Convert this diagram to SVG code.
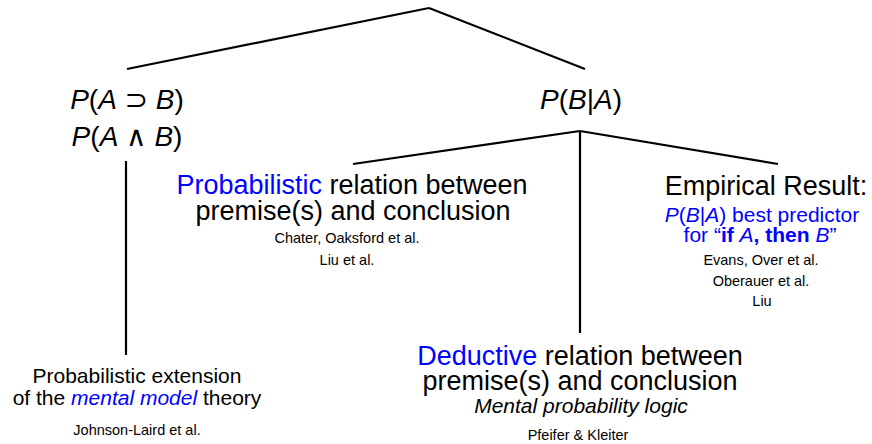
<svg xmlns="http://www.w3.org/2000/svg" width="872" height="444" viewBox="0 0 872 444">
<style>
text{font-family:"Liberation Sans","DejaVu Sans",sans-serif;fill:#000;text-anchor:middle}
.m{font-size:28px}
.h{font-size:27px}
.s{font-size:21px}
.r{font-size:14.5px}
.b{fill:#0000ff}
.i{font-style:italic}
.bold{font-weight:bold}
.nb{font-weight:normal}
line{stroke:#000;stroke-width:2.2;fill:none}
</style>
<rect width="872" height="444" fill="#fff"/>
<g id="connectors">
<line x1="429" y1="8" x2="127" y2="69"/>
<line x1="429" y1="8" x2="585" y2="69"/>
<line x1="580" y1="131" x2="353" y2="164"/>
<line x1="580" y1="131" x2="778" y2="164"/>
<line x1="580" y1="131" x2="580" y2="333"/>
<line x1="126" y1="161" x2="126" y2="355"/>
</g>
<g id="nodeLeft">
<text class="m" x="127" y="109"><tspan class="i">P</tspan>(<tspan class="i">A</tspan> ⊃ <tspan class="i">B</tspan>)</text>
<text class="m" x="127" y="146"><tspan class="i">P</tspan>(<tspan class="i">A</tspan> ∧ <tspan class="i">B</tspan>)</text>
</g>
<g id="nodeRight">
<text class="m" x="581" y="109"><tspan class="i">P</tspan>(<tspan class="i">B</tspan>|<tspan class="i">A</tspan>)</text>
</g>
<g id="nodeProbabilistic">
<text class="h" x="352" y="194"><tspan class="b">Probabilistic</tspan> relation between</text>
<text class="h" x="353" y="220">premise(s) and conclusion</text>
<text class="r" x="347" y="243">Chater, Oaksford et al.</text>
<text class="r" x="347" y="265">Liu et al.</text>
</g>
<g id="nodeEmpirical">
<text class="h" x="766" y="195">Empirical Result:</text>
<text class="s b" x="762" y="222"><tspan class="i">P</tspan>(<tspan class="i">B</tspan>|<tspan class="i">A</tspan>) best predictor</text>
<text class="s b" x="760" y="242">for “<tspan class="bold">if </tspan><tspan class="i">A</tspan><tspan class="bold">, then </tspan><tspan class="i">B</tspan>”</text>
<text class="r" x="761" y="265">Evans, Over et al.</text>
<text class="r" x="761" y="286">Oberauer et al.</text>
<text class="r" x="762" y="306">Liu</text>
</g>
<g id="nodeDeductive">
<text class="h" x="580" y="365"><tspan class="b">Deductive</tspan> relation between</text>
<text class="h" x="580" y="390">premise(s) and conclusion</text>
<text class="s i" x="581" y="413">Mental probability logic</text>
<text class="r" x="578" y="440">Pfeifer &amp; Kleiter</text>
</g>
<g id="nodeMentalModel">
<text class="s" x="137" y="383">Probabilistic extension</text>
<text class="s" x="137" y="405">of the <tspan class="b i">mental model</tspan> theory</text>
<text class="r" x="137" y="435">Johnson-Laird et al.</text>
</g>
</svg>
